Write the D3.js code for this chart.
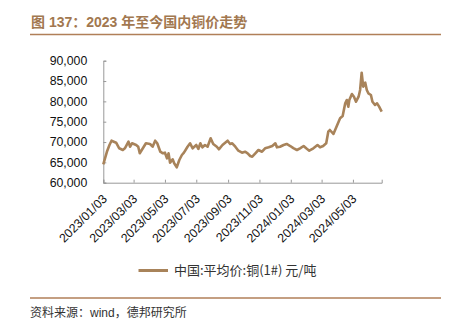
<!DOCTYPE html>
<html><head><meta charset="utf-8">
<script src="https://cdn.jsdelivr.net/npm/d3@7/dist/d3.min.js"></script>
<style>
html,body{margin:0;padding:0;background:#fff;}
svg{display:block;}
</style></head>
<body><svg id="c" width="454" height="326"></svg>
<script>
const titleText = "图 137：2023 年至今国内铜价走势";
const seriesName = "中国:平均价:铜(1#) 元/吨";
const sourceText = "资料来源：wind，德邦研究所";
const yTicks = [60000, 65000, 70000, 75000, 80000, 85000, 90000];
const xTickLabels = ["2023/01/03","2023/03/03","2023/05/03","2023/07/03","2023/09/03","2023/11/03","2024/01/03","2024/03/03","2024/05/03"];
const dates = ["2023-01-03","2023-01-10","2023-01-15","2023-01-19","2023-01-28","2023-02-03","2023-02-10","2023-02-14","2023-02-21","2023-02-24",
"2023-02-28","2023-03-08","2023-03-12","2023-03-15","2023-03-21","2023-03-27","2023-04-04","2023-04-09","2023-04-14","2023-04-18",
"2023-04-24","2023-04-29","2023-05-03","2023-05-07","2023-05-10","2023-05-13","2023-05-18","2023-05-21","2023-05-26","2023-05-31",
"2023-06-05","2023-06-09","2023-06-16","2023-06-21","2023-06-26","2023-07-03","2023-07-07","2023-07-11","2023-07-15","2023-07-20",
"2023-07-25","2023-07-31","2023-08-05","2023-08-12","2023-08-16","2023-08-23","2023-09-02","2023-09-07","2023-09-11","2023-09-17",
"2023-09-23","2023-09-30","2023-10-06","2023-10-11","2023-10-16","2023-10-20","2023-10-26","2023-11-01","2023-11-08","2023-11-14",
"2023-11-21","2023-11-28","2023-12-04","2023-12-07","2023-12-13","2023-12-20","2023-12-26","2024-01-02","2024-01-08","2024-01-15",
"2024-01-21","2024-01-28","2024-02-02","2024-02-08","2024-02-16","2024-02-24","2024-02-29","2024-03-06","2024-03-12","2024-03-16",
"2024-03-19","2024-03-26","2024-04-01","2024-04-08","2024-04-13","2024-04-18","2024-04-21","2024-04-24","2024-04-26","2024-05-01",
"2024-05-05","2024-05-09","2024-05-14","2024-05-17","2024-05-20","2024-05-23","2024-05-27","2024-05-30","2024-06-02","2024-06-07",
"2024-06-10","2024-06-15","2024-06-19","2024-06-23","2024-06-28"];
const prices = [64500,67600,69270,70330,69840,68460,68040,68460,70080,68850,
69690,69270,68850,67230,68460,69690,69520,68850,70330,69690,
67620,67230,67380,66000,67230,64920,65750,64770,63790,65580,
66810,67380,68850,69690,68460,69270,68300,69690,68700,69270,
68850,70920,69520,68850,68210,69270,70330,69520,69690,68850,
67870,67380,67620,67230,66570,66400,67230,68040,67620,68460,
68700,69020,69690,68700,68850,69270,69520,69020,68500,68040,
68460,69020,68460,67870,68460,69270,68700,69020,69690,72540,
72960,71980,73770,75840,76400,79520,80340,78690,80340,81810,
81150,79920,81150,82800,87050,83610,84590,82800,81980,81570,
79920,79110,79520,78690,77460];

const parse = d3.timeParse("%Y-%m-%d");
const parseTick = d3.timeParse("%Y/%m/%d");
const data = dates.map((d,i)=>({date:parse(d), value:prices[i]}));

const svg = d3.select("#c");
const brown = "#a8835a";
const latin = "Arial, 'Liberation Sans', 'Noto Sans CJK SC', sans-serif";

// title
svg.append("text").attr("x",31).attr("y",26.5)
  .attr("font-family",latin).attr("font-weight","bold")
  .attr("font-size",14).attr("fill","#a27850").text(titleText);
svg.append("line").attr("x1",30).attr("x2",441).attr("y1",34.5).attr("y2",34.5)
  .attr("stroke","#b07f58").attr("stroke-width",1.6);

const x = d3.scaleTime().domain([parse("2023-01-03"), parse("2024-06-28")]).range([103.3, 381.7]);
const y = d3.scaleLinear().domain([60000, 90000]).range([182.7, 60.7]);

// y axis
const ya = svg.append("g").attr("transform","translate(103.3,0)")
  .call(d3.axisLeft(y).tickValues(yTicks).tickSize(-3).tickPadding(16).tickFormat(d3.format(",")));
ya.select(".domain").attr("stroke","#999");
ya.selectAll(".tick line").attr("stroke","#999");
ya.selectAll("text").attr("font-family",latin).attr("font-size",12.3).attr("fill","#111");

// x axis
const xa = svg.append("g").attr("transform","translate(0,182.7)")
  .call(d3.axisBottom(x).tickValues(xTickLabels.map(parseTick)).tickSize(-3).tickFormat(d3.timeFormat("%Y/%m/%d")));
xa.select(".domain").attr("stroke","#999");
xa.selectAll(".tick line").attr("stroke","#999");
xa.selectAll("text").attr("font-family",latin).attr("font-size",12.3).attr("fill","#111")
  .attr("text-anchor","end").attr("y",0).attr("dy",0)
  .attr("transform","translate(4,17) rotate(-45)");

// line
svg.append("path").datum(data)
  .attr("fill","none").attr("stroke",brown).attr("stroke-width",2.6).attr("stroke-linejoin","round")
  .attr("d", d3.line().x(d=>x(d.date)).y(d=>y(d.value)));

// legend
svg.append("line").attr("x1",138.5).attr("x2",168).attr("y1",270.5).attr("y2",270.5)
  .attr("stroke",brown).attr("stroke-width",3);
svg.append("text").attr("x",174).attr("y",275)
  .attr("font-family","'Noto Sans CJK SC', sans-serif").attr("font-size",13).attr("fill","#333").text(seriesName);

// bottom
svg.append("line").attr("x1",30).attr("x2",441).attr("y1",298).attr("y2",298)
  .attr("stroke","#b07f58").attr("stroke-width",1.6);
svg.append("text").attr("x",30).attr("y",317)
  .attr("font-family",latin).attr("font-size",12).attr("fill","#333").text(sourceText);
</script></body></html>
